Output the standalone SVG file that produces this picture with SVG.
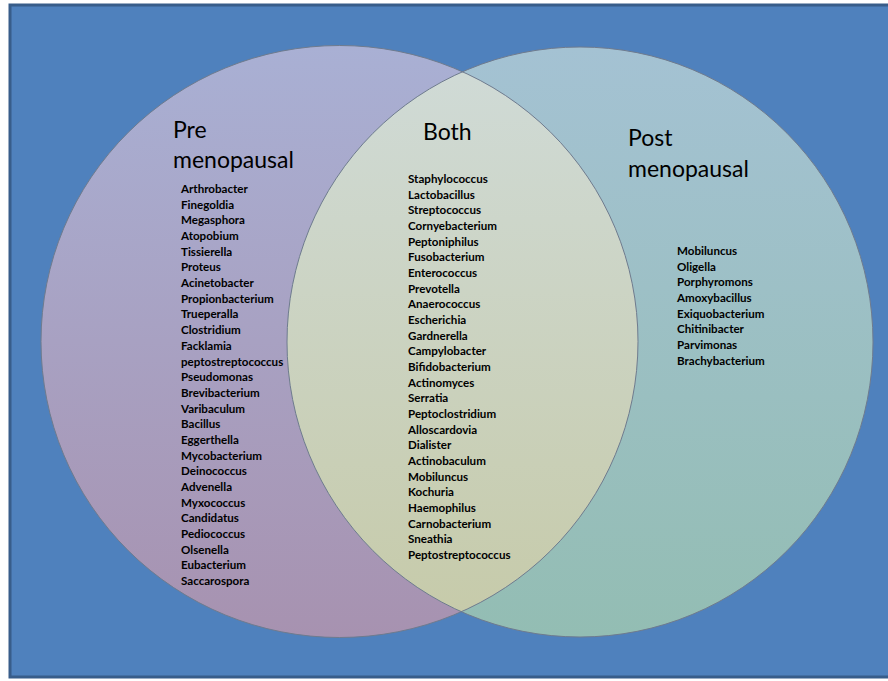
<svg xmlns="http://www.w3.org/2000/svg" width="888" height="681" viewBox="0 0 888 681">
<style>
.hdr{font-family:Lato,"Open Sans","Liberation Sans",sans-serif;font-size:23px;fill:#000}
.lst{font-family:Lato,"Open Sans","Liberation Sans",sans-serif;font-size:11.6px;font-weight:700;fill:#000}
.edge{fill:none;stroke:#6f7b8e;stroke-width:1}
</style>
<defs>
<linearGradient id="gL" x1="0" y1="0" x2="0" y2="1">
<stop offset="0" stop-color="#a9b0d4"/>
<stop offset="1" stop-color="#a792b0"/>
</linearGradient>
<linearGradient id="gR" x1="0" y1="0" x2="0" y2="1">
<stop offset="0" stop-color="#a4c2d3"/>
<stop offset="1" stop-color="#93bdb3"/>
</linearGradient>
<linearGradient id="gM" x1="0" y1="0" x2="0" y2="1">
<stop offset="0" stop-color="#d0dbd8"/>
<stop offset="1" stop-color="#c6caa8"/>
</linearGradient>
<clipPath id="cL"><ellipse cx="339.5" cy="341.5" rx="298.5" ry="296"/></clipPath>
</defs>
<rect x="10" y="5" width="882" height="672" fill="#4f81bd" stroke="#385d8a" stroke-width="3"/>
<g id="pre">
<ellipse cx="339.5" cy="341.5" rx="298.5" ry="296" fill="url(#gL)"/>
</g>
<g id="post">
<ellipse cx="580" cy="342" rx="293" ry="295" fill="url(#gR)"/>
</g>
<g id="both">
<ellipse cx="580" cy="342" rx="293" ry="295" fill="url(#gM)" clip-path="url(#cL)"/>
</g>
<g id="outlines">
<ellipse class="edge" cx="339.5" cy="341.5" rx="298.5" ry="296"/>
<ellipse class="edge" cx="580" cy="342" rx="293" ry="295"/>
</g>
<g id="pre-text">
<text class="hdr" x="173" y="138">Pre</text>
<text class="hdr" x="173" y="168">menopausal</text>
<text class="lst" x="181" y="193">Arthrobacter</text>
<text class="lst" x="181" y="208.7">Finegoldia</text>
<text class="lst" x="181" y="224.4">Megasphora</text>
<text class="lst" x="181" y="240">Atopobium</text>
<text class="lst" x="181" y="255.7">Tissierella</text>
<text class="lst" x="181" y="271.4">Proteus</text>
<text class="lst" x="181" y="287.1">Acinetobacter</text>
<text class="lst" x="181" y="302.8">Propionbacterium</text>
<text class="lst" x="181" y="318.4">Trueperalla</text>
<text class="lst" x="181" y="334.1">Clostridium</text>
<text class="lst" x="181" y="349.8">Facklamia</text>
<text class="lst" x="181" y="365.5">peptostreptococcus</text>
<text class="lst" x="181" y="381.2">Pseudomonas</text>
<text class="lst" x="181" y="396.8">Brevibacterium</text>
<text class="lst" x="181" y="412.5">Varibaculum</text>
<text class="lst" x="181" y="428.2">Bacillus</text>
<text class="lst" x="181" y="443.9">Eggerthella</text>
<text class="lst" x="181" y="459.6">Mycobacterium</text>
<text class="lst" x="181" y="475.2">Deinococcus</text>
<text class="lst" x="181" y="490.9">Advenella</text>
<text class="lst" x="181" y="506.6">Myxococcus</text>
<text class="lst" x="181" y="522.3">Candidatus</text>
<text class="lst" x="181" y="538">Pediococcus</text>
<text class="lst" x="181" y="553.6">Olsenella</text>
<text class="lst" x="181" y="569.3">Eubacterium</text>
<text class="lst" x="181" y="585">Saccarospora</text>
</g>
<g id="both-text">
<text class="hdr" x="423" y="140">Both</text>
<text class="lst" x="408" y="183">Staphylococcus</text>
<text class="lst" x="408" y="198.7">Lactobacillus</text>
<text class="lst" x="408" y="214.3">Streptococcus</text>
<text class="lst" x="408" y="230">Cornyebacterium</text>
<text class="lst" x="408" y="245.7">Peptoniphilus</text>
<text class="lst" x="408" y="261.3">Fusobacterium</text>
<text class="lst" x="408" y="277">Enterococcus</text>
<text class="lst" x="408" y="292.7">Prevotella</text>
<text class="lst" x="408" y="308.3">Anaerococcus</text>
<text class="lst" x="408" y="324">Escherichia</text>
<text class="lst" x="408" y="339.7">Gardnerella</text>
<text class="lst" x="408" y="355.3">Campylobacter</text>
<text class="lst" x="408" y="371">Bifidobacterium</text>
<text class="lst" x="408" y="386.7">Actinomyces</text>
<text class="lst" x="408" y="402.3">Serratia</text>
<text class="lst" x="408" y="418">Peptoclostridium</text>
<text class="lst" x="408" y="433.7">Alloscardovia</text>
<text class="lst" x="408" y="449.3">Dialister</text>
<text class="lst" x="408" y="465">Actinobaculum</text>
<text class="lst" x="408" y="480.7">Mobiluncus</text>
<text class="lst" x="408" y="496.3">Kochuria</text>
<text class="lst" x="408" y="512">Haemophilus</text>
<text class="lst" x="408" y="527.7">Carnobacterium</text>
<text class="lst" x="408" y="543.3">Sneathia</text>
<text class="lst" x="408" y="559">Peptostreptococcus</text>
</g>
<g id="post-text">
<text class="hdr" x="628" y="146">Post</text>
<text class="hdr" x="628" y="177">menopausal</text>
<text class="lst" x="677" y="255">Mobiluncus</text>
<text class="lst" x="677" y="270.7">Oligella</text>
<text class="lst" x="677" y="286.3">Porphyromons</text>
<text class="lst" x="677" y="302">Amoxybacillus</text>
<text class="lst" x="677" y="317.7">Exiquobacterium</text>
<text class="lst" x="677" y="333.3">Chitinibacter</text>
<text class="lst" x="677" y="349">Parvimonas</text>
<text class="lst" x="677" y="364.7">Brachybacterium</text>
</g>
</svg>
